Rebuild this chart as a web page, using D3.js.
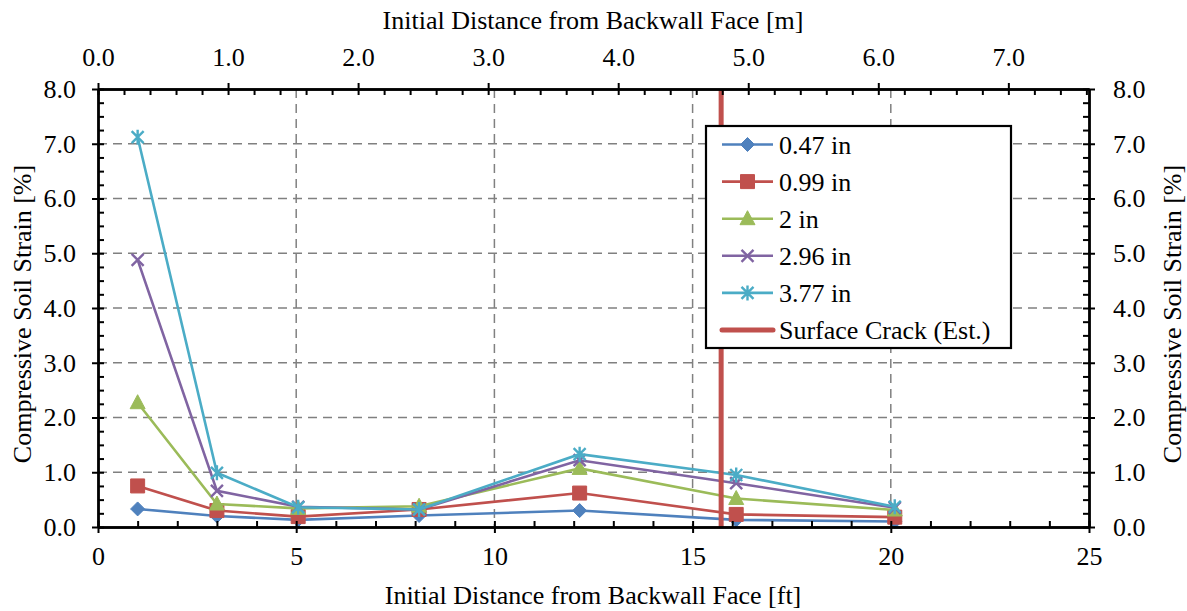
<!DOCTYPE html>
<html><head><meta charset="utf-8">
<script src="https://cdn.jsdelivr.net/npm/d3@7"></script>
<style>
body{margin:0;background:#fff;}
</style></head>
<body><svg id="chart" width="1187" height="611"></svg>
<script>
const distanceFt = [1.0, 3.0, 5.05, 8.1, 12.15, 16.1, 20.1];
const seriesNames = ["0.47 in", "0.99 in", "2 in", "2.96 in", "3.77 in"];
const s047 = [0.33, 0.20, 0.13, 0.21, 0.30, 0.13, 0.10];
const s099 = [0.75, 0.30, 0.19, 0.32, 0.62, 0.23, 0.18];
const s200 = [2.27, 0.42, 0.34, 0.38, 1.07, 0.52, 0.31];
const s296 = [4.88, 0.66, 0.37, 0.32, 1.22, 0.80, 0.35];
const s377 = [7.12, 0.99, 0.36, 0.32, 1.33, 0.95, 0.37];
const crackFt = 15.72;
const crackName = "Surface Crack (Est.)";
const colors = ["#4F81BD", "#C0504D", "#9BBB59", "#8064A2", "#4BACC6"];
const crackColor = "#C0504D";
const markers = ["diamond", "square", "triangle", "x", "asterisk"];
const bottomTicks = [0, 5, 10, 15, 20, 25];
const topTicks = [0, 1, 2, 3, 4, 5, 6, 7];
const yTicks = [0, 1, 2, 3, 4, 5, 6, 7, 8];
const FT_PER_M = 3.2808;
const FONT = "Liberation Serif";
const FS = 26;

const svg = d3.select("#chart");
const L = 98, R = 1089, T = 89, B = 527;
const x = d3.scaleLinear().domain([0, 25]).range([L, R]);
const xm = d3.scaleLinear().domain([0, 25 / FT_PER_M]).range([L, R]);
const y = d3.scaleLinear().domain([0, 8]).range([B, T]);
const allSeries = [s047, s099, s200, s296, s377];

// gridlines
const grid = svg.append("g").attr("stroke", "#808080").attr("stroke-width", 1.5).attr("stroke-dasharray", "9,6");
[1,2,3,4,5,6,7].forEach(v => grid.append("line").attr("x1", L).attr("x2", R).attr("y1", y(v)).attr("y2", y(v)));
[5,10,15,20].forEach(v => grid.append("line").attr("y1", T).attr("y2", B).attr("x1", x(v)).attr("x2", x(v)));

function markerPath(type) {
  switch (type) {
    case "diamond": return "M0,-7L7,0L0,7L-7,0Z";
    case "square": return "M-7,-7H7V7H-7Z";
    case "triangle": return "M0,-8L7.5,6L-7.5,6Z";
    case "x": return "M-6,-6L6,6M-6,6L6,-6";
    case "asterisk": return "M-6,-6L6,6M-6,6L6,-6M0,-7.5L0,7.5";
  }
}
function drawMarker(g, type, color, cx, cy) {
  const filled = type === "diamond" || type === "square" || type === "triangle";
  g.append("path").attr("d", markerPath(type)).attr("transform", `translate(${cx},${cy})`)
    .attr("fill", filled ? color : "none").attr("stroke", color).attr("stroke-width", filled ? 1 : 2.4);
}
const line = d3.line().x((d, i) => x(distanceFt[i])).y(d => y(d));
allSeries.forEach((vals, k) => {
  const g = svg.append("g");
  g.append("path").datum(vals).attr("d", line).attr("fill", "none").attr("stroke", colors[k]).attr("stroke-width", 2.6);
  vals.forEach((v, i) => drawMarker(g, markers[k], colors[k], x(distanceFt[i]), y(v)));
});

svg.append("line").attr("x1", x(crackFt)).attr("x2", x(crackFt)).attr("y1", T).attr("y2", B)
  .attr("stroke", crackColor).attr("stroke-width", 5);

function styleAxis(g) {
  g.attr("font-family", FONT).attr("font-size", FS);
  g.select(".domain").attr("stroke", "#000").attr("stroke-width", 2.4);
  g.selectAll(".tick line").attr("stroke", "#000").attr("stroke-width", 2);
  g.selectAll("text").attr("fill", "#000");
}
const minorX = d3.range(0, 26, 1);
const minorXm = d3.range(0, 7.61, 0.2);
const minorY = d3.range(0, 8.01, 0.25);

let g = svg.append("g").attr("transform", `translate(0,${B})`)
  .call(d3.axisBottom(x).tickValues(bottomTicks).tickFormat(d3.format("d")).tickSize(6).tickPadding(14).tickSizeOuter(0));
styleAxis(g);
g = svg.append("g").attr("transform", `translate(0,${B})`)
  .call(d3.axisBottom(x).tickValues(minorX).tickFormat("").tickSize(-6).tickSizeOuter(0));
styleAxis(g);
g = svg.append("g").attr("transform", `translate(0,${T})`)
  .call(d3.axisTop(xm).tickValues(topTicks).tickFormat(d3.format(".1f")).tickSize(6).tickPadding(17).tickSizeOuter(0));
styleAxis(g);
g = svg.append("g").attr("transform", `translate(0,${T})`)
  .call(d3.axisTop(xm).tickValues(minorXm).tickFormat("").tickSize(-6).tickSizeOuter(0));
styleAxis(g);
g = svg.append("g").attr("transform", `translate(${L},0)`)
  .call(d3.axisLeft(y).tickValues(yTicks).tickFormat(d3.format(".1f")).tickSize(6).tickPadding(16).tickSizeOuter(0));
styleAxis(g);
g = svg.append("g").attr("transform", `translate(${L},0)`)
  .call(d3.axisLeft(y).tickValues(minorY).tickFormat("").tickSize(-6).tickSizeOuter(0));
styleAxis(g);
g = svg.append("g").attr("transform", `translate(${R},0)`)
  .call(d3.axisRight(y).tickValues(yTicks).tickFormat(d3.format(".1f")).tickSize(6).tickPadding(18).tickSizeOuter(0));
styleAxis(g);
g = svg.append("g").attr("transform", `translate(${R},0)`)
  .call(d3.axisRight(y).tickValues(minorY).tickFormat("").tickSize(-6).tickSizeOuter(0));
styleAxis(g);

function label(sel) { return sel.attr("font-size", FS).attr("font-family", FONT).attr("fill", "#000"); }
label(svg.append("text").attr("x", 593).attr("y", 29).attr("text-anchor", "middle")).text("Initial Distance from Backwall Face [m]");
label(svg.append("text").attr("x", 593).attr("y", 604).attr("text-anchor", "middle")).text("Initial Distance from Backwall Face [ft]");
label(svg.append("text").attr("transform", "translate(31,314) rotate(-90)").attr("text-anchor", "middle")).text("Compressive Soil Strain [%]");
label(svg.append("text").attr("transform", "translate(1181,314) rotate(-90)").attr("text-anchor", "middle")).text("Compressive Soil Strain [%]");

const lg = svg.append("g");
lg.append("rect").attr("x", 706).attr("y", 126).attr("width", 305).attr("height", 222)
  .attr("fill", "#fff").attr("stroke", "#000").attr("stroke-width", 2.2);
const rowY = i => 144.5 + i * 37.1;
seriesNames.forEach((name, k) => {
  lg.append("line").attr("x1", 722).attr("x2", 773).attr("y1", rowY(k)).attr("y2", rowY(k)).attr("stroke", colors[k]).attr("stroke-width", 2.6);
  drawMarker(lg, markers[k], colors[k], 747.5, rowY(k));
  label(lg.append("text").attr("x", 779).attr("y", rowY(k)).attr("dy", "0.35em")).text(name);
});
lg.append("line").attr("x1", 722).attr("x2", 773).attr("y1", rowY(5)).attr("y2", rowY(5)).attr("stroke", crackColor).attr("stroke-width", 5).attr("stroke-linecap", "round");
label(lg.append("text").attr("x", 779).attr("y", rowY(5)).attr("dy", "0.35em")).text(crackName);
</script></body></html>
